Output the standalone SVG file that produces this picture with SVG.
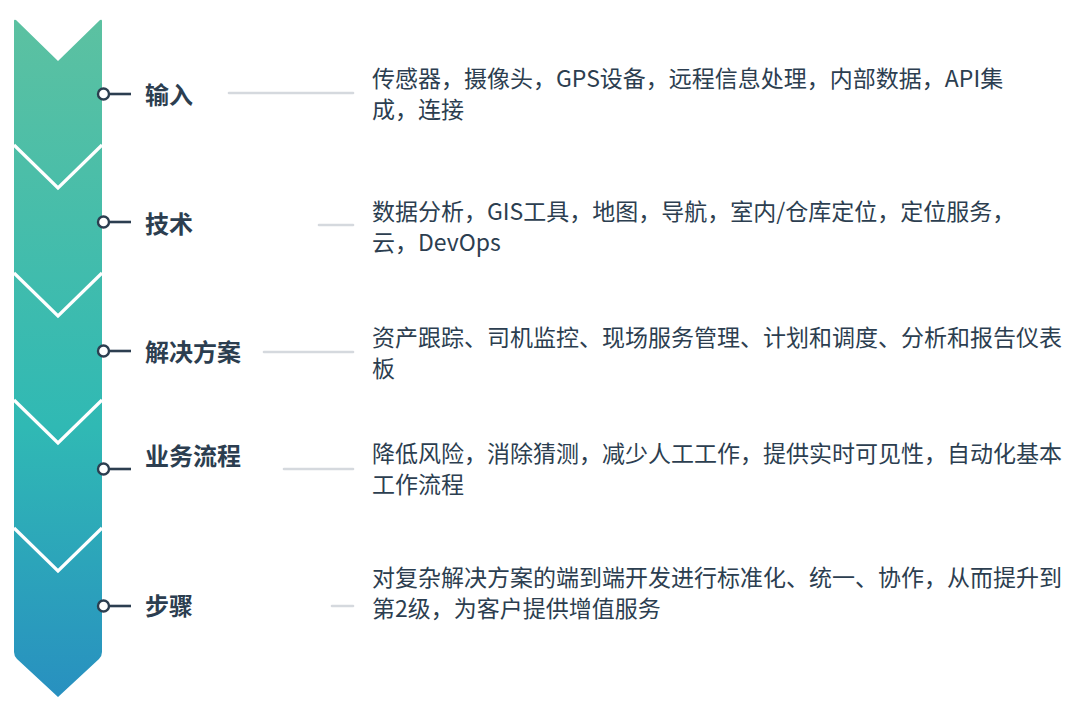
<svg xmlns="http://www.w3.org/2000/svg" width="1080" height="712" viewBox="0 0 1080 712">
<defs>
<linearGradient id="colGrad" gradientUnits="userSpaceOnUse" x1="0" y1="20" x2="0" y2="697">
<stop offset="0" stop-color="#5cc1a1"/>
<stop offset="0.6" stop-color="#30b9b4"/>
<stop offset="1" stop-color="#2890c0"/>
</linearGradient>
<style>
.sep{fill:none;stroke:#ffffff;stroke-width:3.2;stroke-linejoin:miter}
.dot{fill:#ffffff;stroke:#2c3e50;stroke-width:2.4}
.stub{stroke:#2c3e50;stroke-width:2.6;stroke-linecap:butt}
.guide{stroke:#d5d9de;stroke-width:2.6;stroke-linecap:round}
.lbl{font-family:"Noto Sans CJK SC","Noto Sans",sans-serif;font-size:24px;font-weight:bold;fill:#2c3e50}
.desc{font-family:"Noto Sans CJK SC","Noto Sans",sans-serif;font-size:23px;fill:#2c3e50}
</style>
</defs>
<rect width="1080" height="712" fill="#ffffff"/>
<g id="column">
<path d="M14,21 Q14,19 16,20 L58,61 L100,20 Q102,19 102,21 L102,652 Q102,656 99,659 L58,697 L17,659 Q14,656 14,652 Z" fill="url(#colGrad)"/>
<polyline class="sep" points="14,145 58,188 102,145"/>
<polyline class="sep" points="14,273 58,316 102,273"/>
<polyline class="sep" points="14,400 58,443 102,400"/>
<polyline class="sep" points="14,528 58,571 102,528"/>
</g>
<g id="connectors">
<line class="stub" x1="109" y1="94" x2="131" y2="94"/>
<line class="stub" x1="109" y1="222" x2="131" y2="222"/>
<line class="stub" x1="109" y1="351" x2="131" y2="351"/>
<line class="stub" x1="109" y1="469" x2="131" y2="469"/>
<line class="stub" x1="109" y1="606" x2="131" y2="606"/>
<line class="guide" x1="229" y1="93" x2="353" y2="93"/>
<line class="guide" x1="319" y1="225" x2="353" y2="225"/>
<line class="guide" x1="264" y1="352" x2="353" y2="352"/>
<line class="guide" x1="284" y1="469" x2="353" y2="469"/>
<line class="guide" x1="332" y1="606" x2="353" y2="606"/>
</g>
<g id="node-input">
<circle class="dot" cx="103.5" cy="94" r="5.5"/>
<text class="lbl" x="145" y="104">输入</text>
<text class="desc" x="372" y="87">传感器，摄像头，GPS设备，远程信息处理，内部数据，API集</text>
<text class="desc" x="372" y="118">成，连接</text>
</g>
<g id="node-tech">
<circle class="dot" cx="103.5" cy="222" r="5.5"/>
<text class="lbl" x="145" y="233">技术</text>
<text class="desc" x="372" y="220">数据分析，GIS工具，地图，导航，室内/仓库定位，定位服务，</text>
<text class="desc" x="372" y="251">云，DevOps</text>
</g>
<g id="node-solution">
<circle class="dot" cx="103.5" cy="351" r="5.5"/>
<text class="lbl" x="145" y="361">解决方案</text>
<text class="desc" x="372" y="346">资产跟踪、司机监控、现场服务管理、计划和调度、分析和报告仪表</text>
<text class="desc" x="372" y="377">板</text>
</g>
<g id="node-process">
<circle class="dot" cx="103.5" cy="469" r="5.5"/>
<text class="lbl" x="145" y="465">业务流程</text>
<text class="desc" x="372" y="462">降低风险，消除猜测，减少人工工作，提供实时可见性，自动化基本</text>
<text class="desc" x="372" y="493">工作流程</text>
</g>
<g id="node-steps">
<circle class="dot" cx="103.5" cy="606" r="5.5"/>
<text class="lbl" x="145" y="615">步骤</text>
<text class="desc" x="372" y="586">对复杂解决方案的端到端开发进行标准化、统一、协作，从而提升到</text>
<text class="desc" x="372" y="617">第2级，为客户提供增值服务</text>
</g>
</svg>
